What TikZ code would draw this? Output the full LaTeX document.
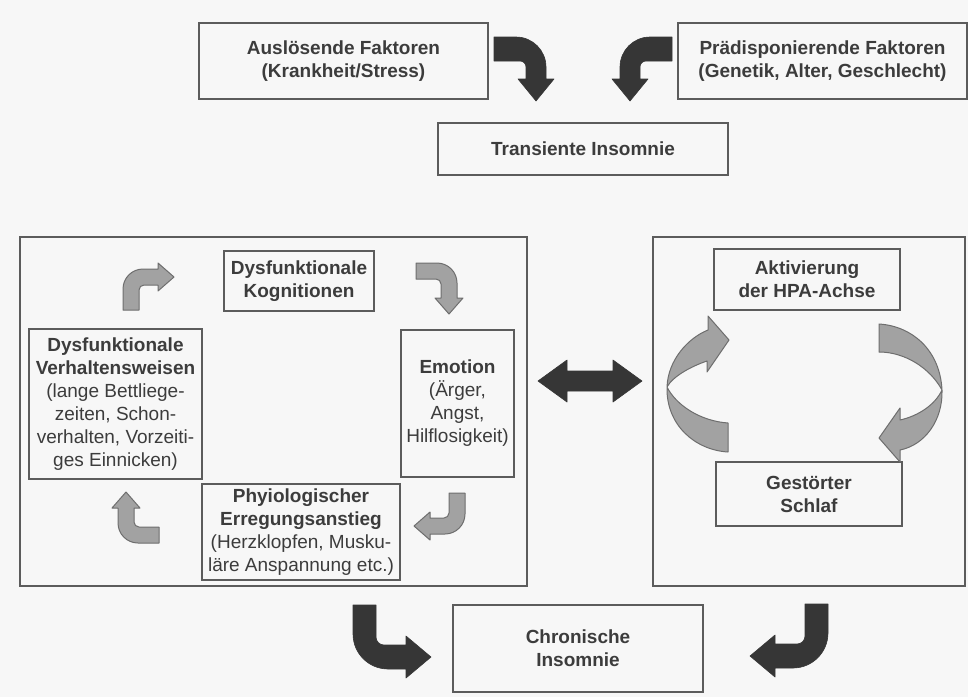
\documentclass[tikz,border=0pt]{standalone}
\usepackage{fontspec}
\setmainfont{Liberation Sans}
\definecolor{paper}{HTML}{F7F7F7}
\definecolor{ink}{HTML}{3C3C3C}
\definecolor{frame}{HTML}{5C5C5C}
\definecolor{darkfill}{HTML}{363636}
\definecolor{midgray}{HTML}{A2A2A2}
\definecolor{midedge}{HTML}{6E6E6E}

% Bent block arrow in local (u,v) coordinates: the shaft enters along u,
% then turns towards +v and ends in a head.
% #1 style, #2 u of bent shaft centre, #3 entry thickness, #4 half width of bent shaft,
% #5 outer radius, #6 inner radius, #7 v of head base, #8 head half width, #9 v of tip
\newcommand\bentarrow[9]{%
  \filldraw[#1] (0,0) -- ({#2+#4-#5},0)
    .. controls ({#2+#4-0.448*#5},0) and ({#2+#4},{0.448*#5}) .. ({#2+#4},{#5})
    -- ({#2+#4},{#7}) -- ({#2+#8},{#7}) -- ({#2},{#9}) -- ({#2-#8},{#7}) -- ({#2-#4},{#7})
    -- ({#2-#4},{#3+#6})
    .. controls ({#2-#4},{#3+0.448*#6}) and ({#2-#4-0.448*#6},{#3}) .. ({#2-#4-#6},{#3})
    -- (0,{#3}) -- cycle;}

\tikzset{
  sz/.style n args={2}{minimum width={#1*0.5pt}, minimum height={#2*0.5pt}},
  box/.style={draw=frame, line width=0.55pt, text=ink, align=center, inner sep=0pt,
    font=\fontsize{9.5}{11.5}\selectfont},
  panel/.style={draw=frame, line width=0.55pt, inner sep=0pt},
  heavy/.style={fill=darkfill, draw=darkfill, line width=0.3pt, line join=round},
  light/.style={fill=midgray, draw=midedge, line width=0.5pt, line join=round},
  ribbon/.style={fill=midgray, draw=midedge, line width=0.5pt, line join=round},
}

\begin{document}
\begin{tikzpicture}[x=0.5pt, y=-0.5pt]
\fill[paper] (0,0) rectangle (968,697);
\useasboundingbox (0,0) rectangle (968,697);

% top row
\node[box, sz={289}{76}] (ausl) at (343.5,61)
  {\textbf{Auslösende Faktoren}\\\textbf{(Krankheit/Stress)}};
\node[box, sz={289}{76}] (praed) at (822.5,61)
  {\textbf{Prädisponierende Faktoren}\\\textbf{(Genetik, Alter, Geschlecht)}};
\node[box, sz={290}{52}] (trans) at (583,149) {\textbf{Transiente Insomnie}};

% panels
\node[panel, sz={507}{349}] (lpanel) at (273.5,411.5) {};
\node[panel, sz={312}{349}] (rpanel) at (809,411.5) {};

% vicious circle on the left
\node[box, sz={150}{60}] (kogn) at (299,281)
  {\textbf{Dysfunktionale}\\\textbf{Kognitionen}};
\node[box, sz={113}{147}] (emot) at (457.5,403.5)
  {\textbf{Emotion}\\(Ärger,\\Angst,\\Hilflosigkeit)};
\node[box, sz={173}{150}] (verh) at (115.5,404)
  {\textbf{Dysfunktionale}\\\textbf{Verhaltensweisen}\\(lange Bettliege-\\zeiten, Schon-\\verhalten, Vorzeiti-\\ges Einnicken)};
\node[box, sz={198}{96}] (phys) at (301,532)
  {\textbf{Phyiologischer}\\\textbf{Erregungsanstieg}\\(Herzklopfen, Musku-\\läre Anspannung etc.)};

% circle on the right
\node[box, sz={186}{61}] (aktiv) at (807,279.5)
  {\textbf{Aktivierung}\\\textbf{der HPA-Achse}};
\node[box, sz={186}{64}] (gest) at (809,494)
  {\textbf{Gestörter}\\\textbf{Schlaf}};

% result
\node[box, sz={250}{87}] (chron) at (578,648.5)
  {\textbf{Chronische}\\\textbf{Insomnie}};

% anchor points of the bent arrows
\coordinate (inA) at (494,37);
\coordinate (inB) at (672,37);
\coordinate (inC) at (353,605);
\coordinate (inD) at (828,604);
\coordinate (gTL) at (123,310);
\coordinate (gTR) at (416,263);
\coordinate (gBR) at (465,493);
\coordinate (gBL) at (159,543);

% dark arrows into the insomnia boxes
\begin{scope}[shift={(inA)}, x={(0.5pt,0pt)}, y={(0pt,-0.5pt)}]
  \bentarrow{heavy}{42}{24}{10}{30}{6}{42}{18}{64}
\end{scope}
\begin{scope}[shift={(inB)}, x={(-0.5pt,0pt)}, y={(0pt,-0.5pt)}]
  \bentarrow{heavy}{42}{24}{10}{30}{6}{42}{18}{64}
\end{scope}
\begin{scope}[shift={(inC)}, x={(0pt,-0.5pt)}, y={(0.5pt,0pt)}]
  \bentarrow{heavy}{52}{23}{12}{35}{8}{53}{21}{78}
\end{scope}
\begin{scope}[shift={(inD)}, x={(0pt,-0.5pt)}, y={(-0.5pt,0pt)}]
  \bentarrow{heavy}{52}{23}{12}{35}{8}{53}{21}{78}
\end{scope}

% grey arrows of the left circle
\begin{scope}[shift={(gTL)}, x={(0pt,0.5pt)}, y={(0.5pt,0pt)}]
  \bentarrow{light}{33}{16}{8}{20}{5}{35}{14}{51}
\end{scope}
\begin{scope}[shift={(gTR)}, x={(0.5pt,0pt)}, y={(0pt,-0.5pt)}]
  \bentarrow{light}{33}{16}{8}{20}{5}{35}{14}{51}
\end{scope}
\begin{scope}[shift={(gBR)}, x={(0pt,-0.5pt)}, y={(-0.5pt,0pt)}]
  \bentarrow{light}{33}{16}{8}{20}{5}{35}{14}{51}
\end{scope}
\begin{scope}[shift={(gBL)}, x={(-0.5pt,0pt)}, y={(0pt,0.5pt)}]
  \bentarrow{light}{33}{16}{8}{20}{5}{35}{14}{51}
\end{scope}

% double arrow between the panels
\fill[heavy] (538,381) -- (567,360) -- (567,371) -- (613,371) -- (613,360)
  -- (642,381) -- (613,402) -- (613,391) -- (567,391) -- (567,402) -- cycle;

% twisted ribbon arrows of the right circle
\filldraw[ribbon] (708,316) -- (729,340) -- (707,372) -- (707,361)
  .. controls (692,366) and (673,376) .. (667,387)
  .. controls (676,405) and (700,421) .. (728,423)
  -- (728,452)
  .. controls (695,450) and (666,425) .. (667,387)
  .. controls (668,360) and (688,338) .. (708,330)
  -- cycle;
\filldraw[ribbon] (879,324)
  .. controls (912,326) and (940,350) .. (942,390)
  .. controls (943,420) and (925,445) .. (900,450)
  -- (900,462) -- (879,438) -- (900,408) -- (900,420)
  .. controls (918,416) and (935,405) .. (942,390)
  .. controls (930,368) and (905,352) .. (879,352)
  -- cycle;
\end{tikzpicture}
\end{document}
